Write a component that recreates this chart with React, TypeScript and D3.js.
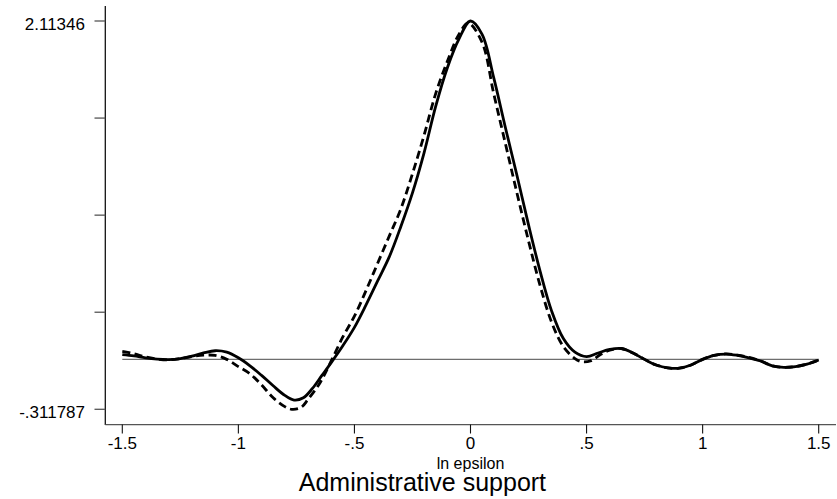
import React, { useEffect, useRef } from "react";
import * as d3 from "d3";

// kernel-ish curves (x = ln epsilon)
const solidX = [-1.5, -1.45, -1.4, -1.35, -1.3, -1.25, -1.2, -1.15, -1.1, -1.05, -1.0, -0.95, -0.9, -0.85, -0.8, -0.76, -0.72, -0.68, -0.64, -0.6, -0.55, -0.5, -0.45, -0.4, -0.35, -0.3, -0.25, -0.2, -0.15, -0.1, -0.05, 0.0, 0.05, 0.1, 0.15, 0.2, 0.25, 0.3, 0.35, 0.4, 0.45, 0.5, 0.55, 0.6, 0.65, 0.7, 0.75, 0.8, 0.85, 0.9, 0.95, 1.0, 1.05, 1.1, 1.15, 1.2, 1.25, 1.3, 1.35, 1.4, 1.45, 1.5];
const solidY = [0.03, 0.022, 0.01, 0.002, -0.001, 0.005, 0.02, 0.04, 0.054, 0.045, 0.01, -0.04, -0.1, -0.165, -0.225, -0.254, -0.24, -0.18, -0.1, -0.02, 0.085, 0.2, 0.34, 0.49, 0.64, 0.83, 1.04, 1.29, 1.58, 1.82, 2.0, 2.11346, 2.03, 1.76, 1.45, 1.15, 0.84, 0.55, 0.3, 0.13, 0.045, 0.017, 0.04, 0.062, 0.068, 0.04, 0.0, -0.035, -0.053, -0.055, -0.035, 0.0, 0.025, 0.033, 0.025, 0.01, -0.01, -0.04, -0.05, -0.045, -0.03, -0.004];

const dashX = [-1.5, -1.45, -1.4, -1.35, -1.3, -1.25, -1.2, -1.15, -1.1, -1.05, -1.0, -0.95, -0.9, -0.85, -0.8, -0.77, -0.73, -0.7, -0.65, -0.6, -0.55, -0.5, -0.45, -0.4, -0.35, -0.3, -0.25, -0.2, -0.15, -0.1, -0.05, -0.01, 0.05, 0.1, 0.15, 0.2, 0.25, 0.3, 0.35, 0.4, 0.45, 0.48, 0.52, 0.56, 0.6, 0.65, 0.7, 0.75, 0.8, 0.85, 0.9, 0.95, 1.0, 1.05, 1.1, 1.15, 1.2, 1.25, 1.3, 1.35, 1.4, 1.45, 1.5];
const dashY = [0.05, 0.035, 0.015, 0.002, -0.003, 0.005, 0.018, 0.026, 0.025, 0.0, -0.045, -0.09, -0.16, -0.24, -0.295, -0.311787, -0.3, -0.25, -0.15, -0.01, 0.14, 0.27, 0.43, 0.6, 0.77, 0.94, 1.16, 1.4, 1.66, 1.86, 2.03, 2.1, 1.98, 1.66, 1.35, 1.04, 0.74, 0.46, 0.23, 0.08, 0.005, -0.015, -0.008, 0.03, 0.058, 0.068, 0.04, 0.0, -0.035, -0.053, -0.055, -0.035, 0.0, 0.025, 0.034, 0.027, 0.012, -0.01, -0.04, -0.05, -0.045, -0.03, -0.004];

const xTicks = [-1.5, -1, -0.5, 0, 0.5, 1, 1.5];
const xTickLabels = ["-1.5", "-1", "-.5", "0", ".5", "1", "1.5"];
const yMin = -0.311787;
const yMax = 2.11346;
const yLabels = ["-.311787", "2.11346"];

const font = "'Liberation Sans', Arial, sans-serif";

const App = () => {
    const ref = useRef(null);

    useEffect(() => {
        const svg = d3.select(ref.current);
        svg.selectAll("*").remove();

        const x = d3.scaleLinear().domain([-1.5, 1.5]).range([122.3, 818.7]);
        const y = d3.scaleLinear().domain([yMin, yMax]).range([409.3, 21]);

        // y axis
        svg.append("line")
            .attr("x1", 105.3).attr("x2", 105.3)
            .attr("y1", 6).attr("y2", 425)
            .attr("stroke", "#111").attr("stroke-width", 1.3);
        const yTickVals = d3.range(5).map(i => yMin + (yMax - yMin) * i / 4);
        svg.append("g").selectAll("line")
            .data(yTickVals)
            .enter().append("line")
            .attr("x1", 94.5).attr("x2", 105.3)
            .attr("y1", d => y(d)).attr("y2", d => y(d))
            .attr("stroke", "#555").attr("stroke-width", 1.3);
        svg.append("g").selectAll("text")
            .data([yMin, yMax])
            .enter().append("text")
            .attr("x", 85)
            .attr("y", d => y(d) + 8.7)
            .attr("text-anchor", "end")
            .style("font-family", font)
            .style("font-size", "17px")
            .text((d, i) => yLabels[i]);

        // x axis
        svg.append("line")
            .attr("x1", 105.3).attr("x2", 836)
            .attr("y1", 424.6).attr("y2", 424.6)
            .attr("stroke", "#555").attr("stroke-width", 1.4);
        svg.append("g").selectAll("line")
            .data(xTicks)
            .enter().append("line")
            .attr("x1", d => x(d)).attr("x2", d => x(d))
            .attr("y1", 424.6).attr("y2", 433.5)
            .attr("stroke", "#111").attr("stroke-width", 1.1);
        svg.append("g").selectAll("text")
            .data(xTicks)
            .enter().append("text")
            .attr("x", d => x(d))
            .attr("y", 448.5)
            .attr("text-anchor", "middle")
            .style("font-family", font)
            .style("font-size", "17px")
            .text((d, i) => xTickLabels[i]);

        svg.append("text")
            .attr("x", x(0)).attr("y", 468.5)
            .attr("text-anchor", "middle")
            .style("font-family", font)
            .style("font-size", "16px")
            .text("ln epsilon");
        svg.append("text")
            .attr("x", 422.4).attr("y", 490.5)
            .attr("text-anchor", "middle")
            .style("font-family", font)
            .style("font-size", "25px")
            .text("Administrative support");

        // zero reference
        svg.append("line")
            .attr("x1", x(-1.5)).attr("x2", x(1.5))
            .attr("y1", y(0)).attr("y2", y(0))
            .attr("stroke", "#6e6e6e").attr("stroke-width", 1.3);

        const line = d3.line()
            .x(d => x(d[0]))
            .y(d => y(d[1]))
            .curve(d3.curveCatmullRom.alpha(0.5));

        svg.append("path")
            .datum(solidX.map((v, i) => [v, solidY[i]]))
            .attr("d", line)
            .attr("fill", "none")
            .attr("stroke", "#000")
            .attr("stroke-width", 2.8);

        svg.append("path")
            .datum(dashX.map((v, i) => [v, dashY[i]]))
            .attr("d", line)
            .attr("fill", "none")
            .attr("stroke", "#000")
            .attr("stroke-width", 2.8)
            .attr("stroke-dasharray", "8,4.5");
    }, []);

    return (
        <svg
            ref={ref}
            width={837}
            height={499}
            style={{ position: "absolute", left: 0, top: 0, background: "#fff" }}
        />
    );
};

export default App;
